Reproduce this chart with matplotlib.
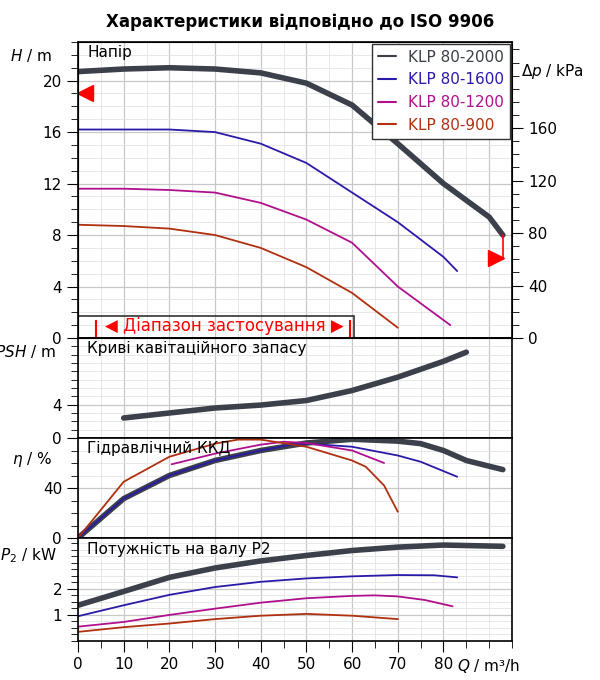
import matplotlib
matplotlib.use("Agg")
import matplotlib.pyplot as plt
import matplotlib.ticker as mticker
from matplotlib.patches import Rectangle

names = ["KLP 80-2000", "KLP 80-1600", "KLP 80-1200", "KLP 80-900"]
colors = ["#3b404a", "#2a1aa8", "#b0108e", "#b03010"]
widths = [4, 1.3, 1.3, 1.3]

# head H / m
h_q = [
    [0, 10, 20, 30, 40, 50, 60, 70, 80, 90, 93],
    [0, 10, 20, 30, 40, 50, 60, 70, 80, 83],
    [0, 10, 20, 30, 40, 50, 60, 70, 81.5],
    [0, 10, 20, 30, 40, 50, 60, 70],
]
h_v = [
    [20.7, 20.9, 21.0, 20.9, 20.6, 19.8, 18.1, 15.1, 12.0, 9.4, 8.0],
    [16.2, 16.2, 16.2, 16.0, 15.1, 13.6, 11.3, 9.0, 6.3, 5.2],
    [11.6, 11.6, 11.5, 11.3, 10.5, 9.2, 7.4, 4.0, 1.0],
    [8.8, 8.7, 8.5, 8.0, 7.0, 5.5, 3.5, 0.8],
]

# NPSH / m (one curve)
npsh_q = [10, 20, 30, 40, 50, 60, 70, 80, 85]
npsh_v = [2.4, 3.0, 3.6, 3.95, 4.5, 5.7, 7.3, 9.2, 10.3]

# efficiency / %
eta_q = [
    [0, 10, 20, 30, 40, 50, 60, 70, 75, 80, 85, 93],
    [0, 10, 20, 30, 40, 47, 50, 60, 70, 75, 83],
    [20.5, 30, 40, 45, 50, 60, 67],
    [0, 10, 20, 30, 35, 40, 50, 60, 63, 67, 70],
]
eta_v = [
    [0, 31.5, 50, 62, 70, 76, 79, 77.5, 75.5, 70, 62, 54.7],
    [0, 31.5, 50, 62, 70, 75, 75.5, 73, 66, 61, 49],
    [59, 67.5, 74.7, 77, 76, 70, 60],
    [0, 45, 65, 75.5, 78.7, 78.7, 73, 62, 57, 42, 21],
]

# shaft power P2 / kW
p_q = [
    [0, 10, 20, 30, 40, 50, 60, 70, 80, 93],
    [0, 10, 20, 30, 40, 50, 60, 70, 78, 83],
    [0, 10, 20, 30, 40, 50, 60, 65, 70, 76, 82],
    [0, 10, 20, 30, 40, 50, 60, 70],
]
p_v = [
    [1.37, 1.9, 2.44, 2.8, 3.07, 3.28, 3.47, 3.6, 3.68, 3.63],
    [0.95, 1.37, 1.77, 2.07, 2.27, 2.4, 2.48, 2.53, 2.52, 2.44],
    [0.55, 0.73, 1.0, 1.24, 1.47, 1.64, 1.73, 1.75, 1.71, 1.57, 1.33],
    [0.35, 0.53, 0.67, 0.84, 0.97, 1.04, 0.97, 0.84],
]

fig = plt.figure(figsize=(6, 6.8), dpi=100)
L, W = 78 / 600, 434 / 600


def ax_at(top_px, bot_px):
    return fig.add_axes([L, 1 - bot_px / 680, W, (bot_px - top_px) / 680])


ax1 = ax_at(42, 338)
ax2 = ax_at(338, 438)
ax3 = ax_at(438, 538)
ax4 = ax_at(538, 641)
axes = [ax1, ax2, ax3, ax4]

for ax in axes:
    ax.set_xlim(0, 95)
    ax.xaxis.set_major_locator(mticker.MultipleLocator(10))
    ax.xaxis.set_minor_locator(mticker.MultipleLocator(5))
    ax.grid(True, which="major", color="#c8c8c8", lw=0.9)
    ax.grid(True, which="minor", color="#e4e4e4", lw=0.6)
    ax.tick_params(which="both", direction="out", labelsize=11)
    ax.tick_params(which="major", length=8)
    ax.tick_params(which="minor", length=5)
    ax.set_axisbelow(True)
    if ax is not ax4:
        ax.tick_params(axis="x", which="both", length=0, labelbottom=False)
    for s in ax.spines.values():
        s.set_linewidth(1.2)

# head panel
for i in range(4):
    ax1.plot(h_q[i], h_v[i], color=colors[i], lw=widths[i], label=names[i],
             solid_capstyle="round")
ax1.set_ylim(0, 23)
ax1.yaxis.set_major_locator(mticker.MultipleLocator(4))
ax1.yaxis.set_minor_locator(mticker.MultipleLocator(1))
ax1.text(2, 22.2, "Напір", fontsize=11, va="center")
ax1.text(-0.06, 0.955, r"$H$ / m", transform=ax1.transAxes, fontsize=11,
         ha="right", va="center")
leg = ax1.legend(loc="upper right", fontsize=11, handlelength=1.2,
                 borderaxespad=0.1, fancybox=False, edgecolor="#333333",
                 framealpha=1)
for t, c in zip(leg.get_texts(), colors):
    t.set_color(c)
for ln in leg.get_lines():
    ln.set_linewidth(1.5)

axr = ax1.twinx()
axr.set_ylim(0, 23 * 9.81)
axr.yaxis.set_major_locator(mticker.FixedLocator([0, 40, 80, 120, 160]))
axr.yaxis.set_minor_locator(mticker.MultipleLocator(10))
axr.tick_params(which="both", direction="out", labelsize=11)
axr.tick_params(which="major", length=8)
axr.tick_params(which="minor", length=5)
axr.text(1.02, 0.9, r"$\Delta p$ / kPa", transform=ax1.transAxes, fontsize=11,
         va="center")

# operating range box
ax1.add_patch(Rectangle((0, 0), 60.5, 1.7, fill=False, ec="#333333", lw=1.2,
                        zorder=5))
ax1.text(32, 0.9, "◀ Діапазон застосування ▶", color="red", fontsize=12,
         ha="center", va="center", zorder=6)
ax1.plot([4, 4], [0, 1.3], color="red", lw=1.5, zorder=6)
ax1.plot([59.5, 59.5], [0, 1.3], color="red", lw=1.5, zorder=6)
ax1.plot([1.5], [19], marker="<", color="red", ms=11, zorder=6, clip_on=False)
ax1.plot([93, 93], [8, 6.2], color="red", lw=1.2, zorder=6)
ax1.plot([91.5], [6.2], marker=">", color="red", ms=11, zorder=6)

# NPSH panel
ax2.plot(npsh_q, npsh_v, color=colors[0], lw=4, solid_capstyle="round")
ax2.set_ylim(0, 12)
ax2.yaxis.set_major_locator(mticker.FixedLocator([0, 4]))
ax2.yaxis.set_minor_locator(mticker.MultipleLocator(1))
ax2.text(2, 10.8, "Криві кавітаційного запасу", fontsize=11, va="center")
ax2.text(-0.05, 0.86, r"$NPSH$ / m", transform=ax2.transAxes, fontsize=11,
         ha="right", va="center")

# efficiency panel
for i in range(4):
    ax3.plot(eta_q[i], eta_v[i], color=colors[i], lw=widths[i],
             solid_capstyle="round")
ax3.set_ylim(0, 80)
ax3.yaxis.set_major_locator(mticker.FixedLocator([0, 40]))
ax3.yaxis.set_minor_locator(mticker.MultipleLocator(10))
ax3.text(2, 72, "Гідравлічний ККД", fontsize=11, va="center")
ax3.text(-0.06, 0.78, r"$\eta$ / %", transform=ax3.transAxes, fontsize=11,
         ha="right", va="center")

# power panel
for i in range(4):
    ax4.plot(p_q[i], p_v[i], color=colors[i], lw=widths[i],
             solid_capstyle="round")
ax4.set_ylim(0, 3.95)
ax4.yaxis.set_major_locator(mticker.FixedLocator([1, 2]))
ax4.yaxis.set_minor_locator(mticker.MultipleLocator(0.25))
ax4.text(2, 3.5, "Потужність на валу P2", fontsize=11, va="center")
ax4.text(-0.05, 0.83, r"$P_2$ / kW", transform=ax4.transAxes, fontsize=11,
         ha="right", va="center")
ax4.set_xticks(range(0, 90, 10))
ax4.text(83, -0.62, r"$Q$ / m³/h", fontsize=11, ha="left", va="top")

fig.text(0.5, 0.968, "Характеристики відповідно до ISO 9906", ha="center",
         va="center", fontsize=12, fontweight="bold")

fig.savefig("out.png", dpi=100)
